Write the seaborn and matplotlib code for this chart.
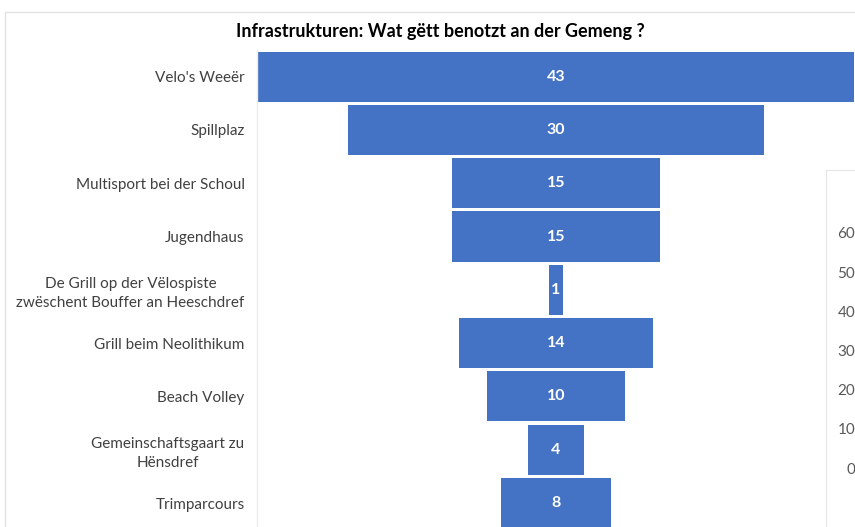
import numpy as np
import pandas as pd
import matplotlib
matplotlib.use("Agg")
import matplotlib.pyplot as plt
import seaborn as sns
from matplotlib.lines import Line2D

categories = ["Velo's Weeër", "Spillplaz", "Multisport bei der Schoul", "Jugendhaus",
              "De Grill op der Vëlospiste\nzwëschent Bouffer an Heeschdref",
              "Grill beim Neolithikum", "Beach Volley",
              "Gemeinschaftsgaart zu\nHënsdref", "Trimparcours"]
counts = [43, 30, 15, 15, 1, 14, 10, 4, 8]
side_ticks = [0, 10, 20, 30, 40, 50, 60]

df = pd.DataFrame({"infra": categories, "n": counts})

sns.set_style("white")
plt.rcParams['font.family'] = ['Lato', 'DejaVu Sans']

W, H = 855, 527
fig = plt.figure(figsize=(W / 100, H / 100), dpi=100)

# main funnel axes
x0, x1, ytop = 257, 855, 50
ax = fig.add_axes([x0 / W, 0, (x1 - x0) / W, (H - ytop) / H])
sns.barplot(data=df, x="n", y="infra", orient="h", color="#4472C4",
            saturation=1, width=0.94, linewidth=0, ax=ax)
# center every bar -> funnel
for p in ax.patches:
    w = p.get_width()
    p.set_x(-w / 2)
half = (x1 - x0) / 13.87 / 2
ax.set_xlim(-half, half)
ax.set_ylim(8.45, -0.5)
for i, v in enumerate(counts):
    ax.text(0, i, str(v), ha="center", va="center", color="white",
            fontsize=11.5, fontweight="bold")
ax.set_xlabel("")
ax.set_ylabel("")
ax.set_xticks([])
ax.tick_params(axis="y", length=0, pad=9, labelsize=11, labelcolor="#404040")
for t in ax.get_yticklabels():
    t.set_multialignment("center")
    t.set_linespacing(1.45)
for s in ["top", "right", "bottom"]:
    ax.spines[s].set_visible(False)
ax.spines["left"].set_color("#ececec")
ax.spines["left"].set_linewidth(1)

fig.text(440 / W, 1 - 32 / H, "Infrastrukturen: Wat gëtt benotzt an der Gemeng ?",
         ha="center", va="center", fontsize=13, fontweight="bold", color="black")

# overlapping fragment of another chart on the right
bx, by = 826, 170
ax2 = fig.add_axes([bx / W, 0, 80 / W, (H - by) / H])
ax2.set_ylim(-(527 - 468) / 3.92, (468 - 170) / 3.92)
ax2.set_xticks([])
ax2.set_yticks(side_ticks)
ax2.set_yticklabels([str(v) for v in side_ticks])
ax2.tick_params(axis="y", length=0, pad=-21, labelsize=11, labelcolor="#595959")
for t in ax2.get_yticklabels():
    t.set_ha("right")
for s in ["right", "bottom"]:
    ax2.spines[s].set_visible(False)
for s in ["left", "top"]:
    ax2.spines[s].set_color("#e6e6e6")

# outer frame of the screenshot
fig.add_artist(Line2D([5 / W, 1], [1 - 12 / H, 1 - 12 / H], color="#e3e3e3", lw=1))
fig.add_artist(Line2D([5 / W, 5 / W], [0, 1 - 12 / H], color="#e3e3e3", lw=1))

fig.savefig("out.png", dpi=100)
